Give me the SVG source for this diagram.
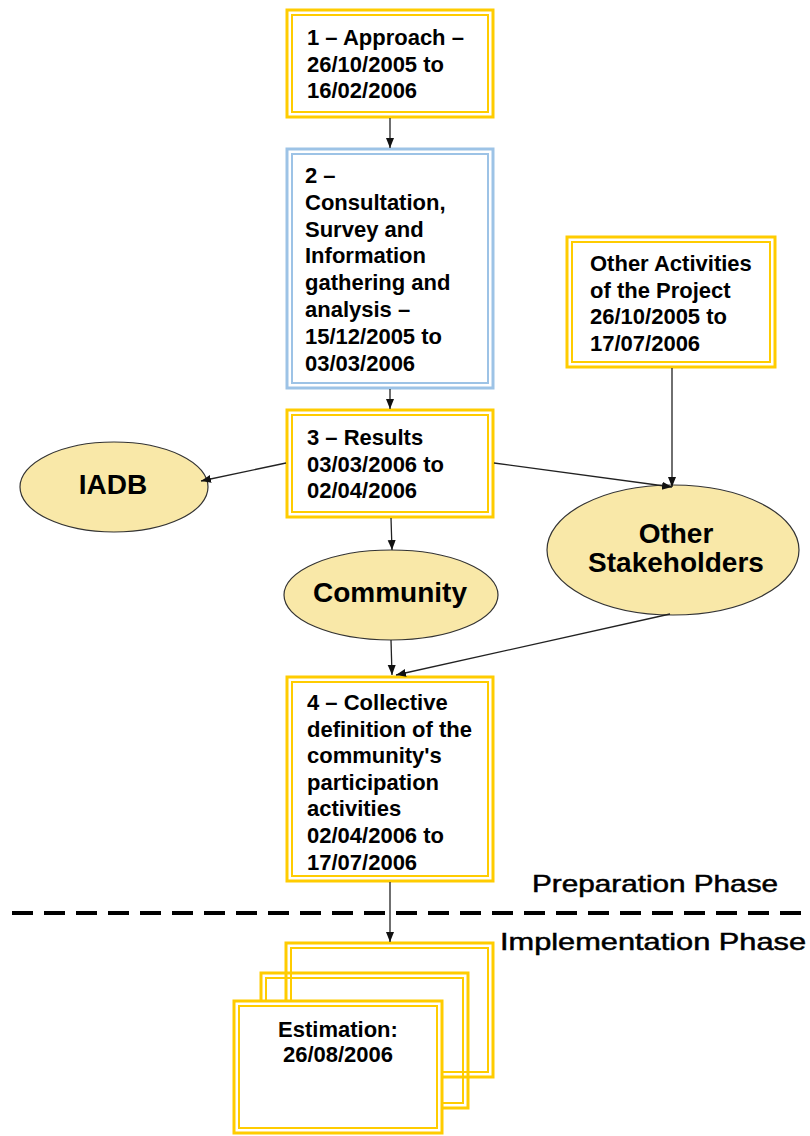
<svg xmlns="http://www.w3.org/2000/svg" width="810" height="1136" viewBox="0 0 810 1136">
  <defs>
    <marker id="arrow" markerUnits="userSpaceOnUse" markerWidth="10" markerHeight="10" viewBox="0 0 10 10" refX="10" refY="5" orient="auto">
      <path d="M0,1 L10,5 L0,9 Z" fill="#111"/>
    </marker>
    <style>
      .outer { fill: #fff; stroke: #FFCC00; stroke-width: 3; }
      .inner { fill: none; stroke: #FFCC00; stroke-width: 2; }
      .open { fill: none; }
      .outerBlue { fill: #fff; stroke: #9DC3E6; stroke-width: 3; }
      .innerBlue { fill: none; stroke: #9DC3E6; stroke-width: 2; }
      .ell { fill: #F9E8A8; stroke: #333; stroke-width: 1.2; }
      .bt { font-family: "Liberation Sans", Arial, sans-serif; font-weight: bold; font-size: 22px; fill: #000; }
      .et { font-family: "Liberation Sans", Arial, sans-serif; font-weight: bold; font-size: 28px; fill: #000; text-anchor: middle; }
      .pt { font-family: "Liberation Sans", Arial, sans-serif; font-size: 24px; fill: #000; stroke: #000; stroke-width: 0.5; }
      .conn { stroke: #222; stroke-width: 1.3; fill: none; marker-end: url(#arrow); }
    </style>
  </defs>

  <rect width="810" height="1136" fill="#fff"/>

  <!-- Phase separator -->
  <line x1="12" y1="913" x2="810" y2="913" stroke="#000" stroke-width="4" stroke-dasharray="21 11"/>
  <text class="pt" x="532" y="892" textLength="246" lengthAdjust="spacingAndGlyphs">Preparation Phase</text>
  <text class="pt" x="500" y="950" textLength="306" lengthAdjust="spacingAndGlyphs">Implementation Phase</text>

  <!-- Step 1 -->
  <g id="step1">
    <rect class="outer" x="287" y="10" width="206" height="107"/>
    <rect class="inner" x="292" y="15" width="196" height="97"/>
    <text class="bt" x="307" y="45">1 – Approach –</text>
    <text class="bt" x="307" y="71.6">26/10/2005 to</text>
    <text class="bt" x="307" y="98.2">16/02/2006</text>
  </g>

  <!-- Step 2 -->
  <g id="step2">
    <rect class="outerBlue" x="287" y="149" width="206" height="239"/>
    <rect class="innerBlue" x="292" y="154" width="196" height="229"/>
    <text class="bt" x="305" y="183">2 –</text>
    <text class="bt" x="305" y="209.8">Consultation,</text>
    <text class="bt" x="305" y="236.6">Survey and</text>
    <text class="bt" x="305" y="263.4">Information</text>
    <text class="bt" x="305" y="290.2">gathering and</text>
    <text class="bt" x="305" y="317">analysis –</text>
    <text class="bt" x="305" y="343.8">15/12/2005 to</text>
    <text class="bt" x="305" y="370.6">03/03/2006</text>
  </g>

  <!-- Other activities -->
  <g id="other-activities">
    <rect class="outer" x="567" y="237" width="208" height="130"/>
    <rect class="inner" x="572" y="242" width="198" height="120"/>
    <text class="bt" x="590" y="271">Other Activities</text>
    <text class="bt" x="590" y="297.5">of the Project</text>
    <text class="bt" x="590" y="324">26/10/2005 to</text>
    <text class="bt" x="590" y="350.5">17/07/2006</text>
  </g>

  <!-- Step 3 -->
  <g id="step3">
    <rect class="outer" x="287" y="410" width="206" height="107"/>
    <rect class="inner" x="292" y="415" width="196" height="97"/>
    <text class="bt" x="307" y="445">3 – Results</text>
    <text class="bt" x="307" y="471.6">03/03/2006 to</text>
    <text class="bt" x="307" y="498.2">02/04/2006</text>
  </g>

  <!-- Stakeholder ellipses -->
  <g id="iadb">
    <ellipse class="ell" cx="114" cy="487" rx="94" ry="45"/>
    <text class="et" x="113" y="494">IADB</text>
  </g>
  <g id="community">
    <ellipse class="ell" cx="391" cy="595" rx="107" ry="45"/>
    <text class="et" x="390" y="602">Community</text>
  </g>
  <g id="other-stakeholders">
    <ellipse class="ell" cx="673" cy="550" rx="126" ry="65"/>
    <text class="et" x="676" y="543">Other</text>
    <text class="et" x="676" y="572">Stakeholders</text>
  </g>

  <!-- Step 4 -->
  <g id="step4">
    <rect class="outer" x="287" y="677" width="206" height="204"/>
    <rect class="inner" x="292" y="682" width="196" height="194"/>
    <text class="bt" x="307" y="710">4 – Collective</text>
    <text class="bt" x="307" y="736.6">definition of the</text>
    <text class="bt" x="307" y="763.2">community's</text>
    <text class="bt" x="307" y="789.8">participation</text>
    <text class="bt" x="307" y="816.4">activities</text>
    <text class="bt" x="307" y="843">02/04/2006 to</text>
    <text class="bt" x="307" y="869.6">17/07/2006</text>
  </g>

  <!-- Estimation: stacked sheets, back to front -->
  <g id="estimation">
    <rect class="outer open" x="286" y="943" width="207" height="134"/>
    <rect class="inner" x="291" y="948" width="197" height="124"/>
    <rect class="outer open" x="261" y="973" width="207" height="135"/>
    <rect class="inner" x="266" y="978" width="197" height="125"/>
    <rect class="outer" x="234" y="1001" width="208" height="132"/>
    <rect class="inner" x="239" y="1006" width="198" height="122"/>
    <text class="bt" x="338" y="1036.7" text-anchor="middle">Estimation:</text>
    <text class="bt" x="338" y="1062" text-anchor="middle">26/08/2006</text>
  </g>

  <!-- Connectors -->
  <g id="connectors">
    <line class="conn" x1="390" y1="118" x2="390" y2="148"/>
    <line class="conn" x1="390" y1="389" x2="390" y2="409"/>
    <line class="conn" x1="286" y1="463" x2="201" y2="481"/>
    <line class="conn" x1="494" y1="463" x2="672" y2="487"/>
    <line class="conn" x1="672" y1="368" x2="672" y2="487"/>
    <line class="conn" x1="391" y1="518" x2="392" y2="550"/>
    <line class="conn" x1="391" y1="640" x2="392" y2="675"/>
    <line class="conn" x1="670" y1="614" x2="396" y2="675"/>
    <line class="conn" x1="390" y1="882" x2="390" y2="942"/>
  </g>
</svg>
